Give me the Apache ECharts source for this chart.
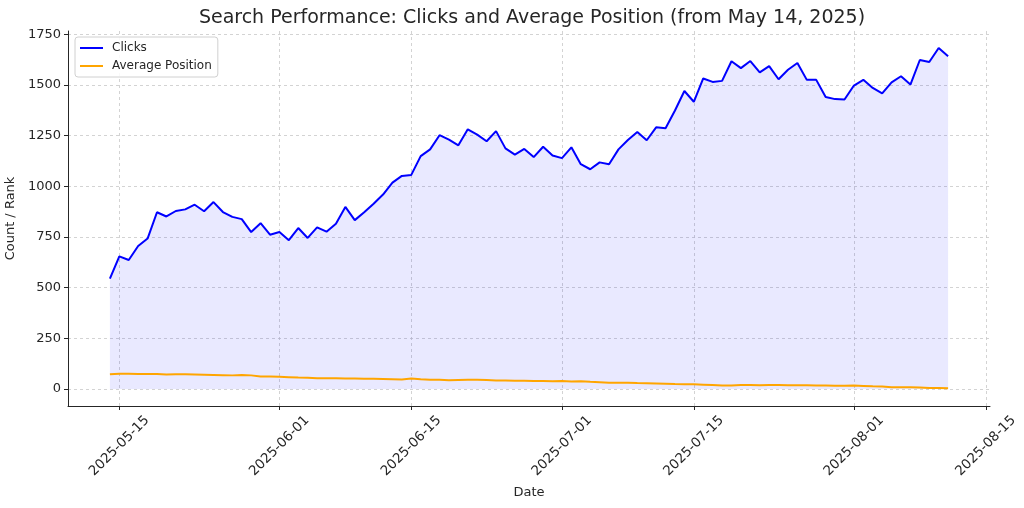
<!DOCTYPE html>
<html>
<head>
<meta charset="utf-8">
<script src="https://cdn.jsdelivr.net/npm/echarts@6/dist/echarts.min.js"></script>
<style>
html,body{margin:0;padding:0;background:#fff;}
#chart{width:1024px;height:508px;}
</style>
</head>
<body>
<div id="chart"></div>
<script>
// Daily dates from 2025-05-14 (90 days)
const startDate = '2025-05-14';
const dayCount = 90;

const clicks = [
  544, 654, 636, 705, 742, 872, 851, 878, 886, 909,
  877, 922, 873, 849, 838, 774, 818, 761, 774, 734,
  794, 745, 797, 776, 815, 898, 833, 872, 914, 959,
  1018, 1051, 1056, 1149, 1182, 1252, 1230, 1202, 1281, 1255,
  1222, 1272, 1187, 1156, 1184, 1144, 1195, 1152, 1139, 1192,
  1109, 1084, 1118, 1109, 1182, 1228, 1268, 1227, 1291, 1286,
  1374, 1470, 1417, 1532, 1515, 1520, 1617, 1583, 1618, 1562,
  1593, 1528, 1575, 1608, 1525, 1525, 1440, 1430, 1428, 1497,
  1525, 1485, 1458, 1513, 1543, 1502, 1623, 1613, 1682, 1642
];

const avgPosition = [
  73, 75, 75, 74, 74, 74, 71, 72, 72, 71,
  70, 69, 68, 67, 69, 67, 61, 61, 60, 58,
  56, 55, 53, 53, 53, 52, 51, 50, 50, 49,
  48, 47, 51, 48, 46, 45, 43, 44, 45, 45,
  44, 42, 42, 41, 40, 39, 39, 38, 39, 37,
  38, 35, 33, 31, 31, 31, 29, 28, 27, 26,
  24, 23, 23, 21, 19, 17, 17, 19, 19, 18,
  20, 19, 18, 18, 18, 17, 17, 16, 16, 17,
  15, 13, 12, 9, 8, 8, 7, 5, 5, 4
];

const yTicks = [0, 250, 500, 750, 1000, 1250, 1500, 1750];
const xTickLabels = ['2025-05-15', '2025-06-01', '2025-06-15', '2025-07-01', '2025-07-15', '2025-08-01', '2025-08-15'];

const DAY = 86400000;
const t0 = Date.parse(startDate + 'T00:00:00Z');
const dates = [];
for (let i = 0; i < dayCount; i++) dates.push(t0 + i * DAY);
const xTicks = xTickLabels.map(s => Date.parse(s + 'T00:00:00Z'));

// matplotlib-like 5% margins
const xSpan = dates[dates.length - 1] - dates[0];
const xMin = dates[0] - 0.05 * xSpan;
const xMax = dates[dates.length - 1] + 0.05 * xSpan;
const yTop = Math.max(...clicks);
const yMin = -0.05 * yTop;
const yMax = yTop * 1.05;

const font = 'DejaVu Sans';
const chart = echarts.init(document.getElementById('chart'), null, {renderer: 'canvas'});

function fmt(v) {
  const d = new Date(v);
  const p = n => (n < 10 ? '0' : '') + n;
  return d.getUTCFullYear() + '-' + p(d.getUTCMonth() + 1) + '-' + p(d.getUTCDate());
}

chart.setOption({
  animation: false,
  backgroundColor: '#ffffff',
  textStyle: {fontFamily: font},
  title: {
    text: 'Search Performance: Clicks and Average Position (from May 14, 2025)',
    left: 527, top: 4, textAlign: 'center',
    textStyle: {fontFamily: font, fontSize: 19, fontWeight: 'normal', color: '#262626'}
  },
  legend: {
    orient: 'vertical', left: 75, top: 37,
    itemWidth: 23, itemHeight: 2, itemGap: 6,
    padding: [5, 6, 5, 5],
    borderColor: '#d0d0d0', borderWidth: 1, borderRadius: 3,
    backgroundColor: 'rgba(255,255,255,0.85)',
    textStyle: {fontFamily: font, fontSize: 12, color: '#262626', padding: [0, 0, 0, 4]},
    data: [
      {name: 'Clicks', icon: 'rect', itemStyle: {color: '#0000ff'}},
      {name: 'Average Position', icon: 'rect', itemStyle: {color: '#ffa500'}}
    ]
  },
  grid: {left: 68, right: 34, top: 31, bottom: 102, containLabel: false, outerBoundsMode: 'none'},
  xAxis: {
    type: 'value', min: xMin, max: xMax,
    name: 'Date', nameLocation: 'middle', nameGap: 79,
    nameTextStyle: {fontFamily: font, fontSize: 13, color: '#262626'},
    axisLine: {show: true, onZero: false, lineStyle: {color: '#262626', width: 1}},
    axisTick: {show: true, length: 4, customValues: xTicks, lineStyle: {color: '#262626'}},
    axisLabel: {
      customValues: xTicks, rotate: 45, margin: 40, align: 'center', verticalAlign: 'middle',
      fontFamily: font, fontSize: 13.5, color: '#262626',
      formatter: v => fmt(v), hideOverlap: false, showMinLabel: true, showMaxLabel: true
    },
    splitLine: {show: true, lineStyle: {color: '#c8c8c8', type: [3, 3], width: 0.8}}
  },
  yAxis: {
    type: 'value', min: yMin, max: yMax,
    name: 'Count / Rank', nameLocation: 'middle', nameGap: 40, nameRotate: 90,
    nameTextStyle: {fontFamily: font, fontSize: 13, color: '#262626'},
    axisLine: {show: true, onZero: false, lineStyle: {color: '#262626', width: 1}},
    axisTick: {show: true, length: 4, customValues: yTicks, lineStyle: {color: '#262626'}},
    axisLabel: {customValues: yTicks, margin: 7, fontFamily: font, fontSize: 13, color: '#262626',
      formatter: v => String(Math.round(v))},
    splitLine: {show: true, lineStyle: {color: '#c8c8c8', type: [3, 3], width: 0.8}}
  },
  series: [
    {
      name: 'Clicks', type: 'line', showSymbol: false, symbol: 'none',
      data: dates.map((d, i) => [d, clicks[i]]),
      lineStyle: {color: '#0000ff', width: 2},
      itemStyle: {color: '#0000ff'},
      areaStyle: {color: 'rgba(0,0,255,0.12)', origin: 0},
      z: 2
    },
    {
      name: 'Average Position', type: 'line', showSymbol: false, symbol: 'none',
      data: dates.map((d, i) => [d, avgPosition[i]]),
      lineStyle: {color: '#ffa500', width: 2},
      itemStyle: {color: '#ffa500'},
      z: 3
    }
  ]
});
</script>
</body>
</html>
